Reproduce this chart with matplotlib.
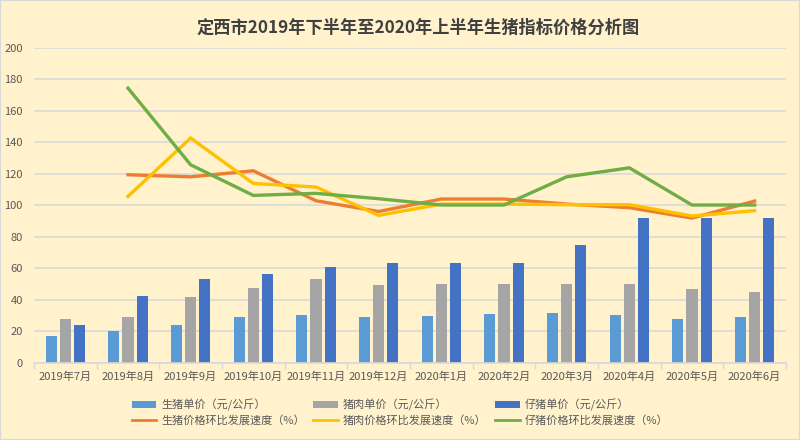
import numpy as np
import matplotlib
matplotlib.use("Agg")
import matplotlib.pyplot as plt
from matplotlib.patches import Rectangle
from matplotlib.lines import Line2D
from matplotlib.patches import Patch

plt.rcParams['font.family'] = ['Noto Sans CJK SC', 'DejaVu Sans']

title = "定西市2019年下半年至2020年上半年生猪指标价格分析图"
months = ["2019年7月", "2019年8月", "2019年9月", "2019年10月", "2019年11月", "2019年12月",
          "2020年1月", "2020年2月", "2020年3月", "2020年4月", "2020年5月", "2020年6月"]

live_pig_price = [17.1, 20.5, 24.3, 29.4, 30.5, 29.4, 30.0, 31.1, 31.5, 30.7, 28.1, 29.0]
pork_price = [27.7, 29.2, 41.7, 47.8, 53.1, 49.3, 49.9, 49.9, 49.9, 49.9, 46.7, 45.0]
piglet_price = [24.3, 42.3, 53.5, 56.7, 61.1, 63.7, 63.7, 63.7, 75.1, 92.2, 92.2, 92.2]

live_pig_rate = [np.nan, 119.5, 118.2, 122.0, 103.0, 96.2, 104.1, 104.1, 100.9, 98.6, 92.0, 102.8]
pork_rate = [np.nan, 105.8, 142.8, 114.0, 111.7, 93.7, 100.9, 100.9, 100.5, 100.5, 93.3, 96.7]
piglet_rate = [np.nan, 174.5, 125.8, 106.4, 107.7, 104.3, 100.3, 100.3, 118.2, 123.9, 100.3, 100.3]

bar_labels = ["生猪单价（元/公斤）", "猪肉单价（元/公斤）", "仔猪单价（元/公斤）"]
line_labels = ["生猪价格环比发展速度（%）", "猪肉价格环比发展速度（%）", "仔猪价格环比发展速度（%）"]

bar_colors = ["#5B9BD5", "#A5A5A5", "#4472C4"]
line_colors = ["#ED7D31", "#FFC000", "#70AD47"]

fig = plt.figure(figsize=(8, 4.4), dpi=100)
fig.patch.set_facecolor("#FFF2CC")
fig.patches.append(Rectangle((0, 0), 1, 1, transform=fig.transFigure, facecolor="none",
                             edgecolor="#D9D9D9", linewidth=1.5, zorder=-1))

ax = fig.add_axes([0.0425, 0.175, 0.94, 0.716])
ax.set_facecolor("none")

x = np.arange(len(months))
bw = 0.176
step = 0.224
for i, (vals, c, lab) in enumerate(zip([live_pig_price, pork_price, piglet_price], bar_colors, bar_labels)):
    ax.bar(x + (i - 1) * step, vals, width=bw, color=c, label=lab, zorder=2)

for vals, c, lab in zip([live_pig_rate, pork_rate, piglet_rate], line_colors, line_labels):
    ax.plot(x, vals, color=c, lw=2.4, label=lab, zorder=3, solid_joinstyle='miter')

ax.set_ylim(0, 200)
ax.set_yticks(np.arange(0, 201, 20))
ax.set_xlim(-0.5, len(months) - 0.5)
ax.set_xticks(x)
ax.set_xticklabels(months)
ax.set_xticks(np.arange(-0.5, len(months), 1), minor=True)
ax.tick_params(axis='x', which='major', length=0, pad=6, labelsize=8, labelcolor="#595959")
ax.tick_params(axis='x', which='minor', length=4, color="#D9D9D9", width=1)
ax.tick_params(axis='y', length=0, pad=8, labelsize=8, labelcolor="#595959")
ax.yaxis.grid(True, color="#D9D9D9", lw=1.2, zorder=0)
ax.set_axisbelow(True)
for s in ["top", "right", "left"]:
    ax.spines[s].set_visible(False)
ax.spines["bottom"].set_color("#D9D9D9")
ax.spines["bottom"].set_linewidth(1.2)

fig.text(0.523, 0.938, title, ha="center", va="center", fontsize=12.4, fontweight="bold", color="#404040")

handles = [
    Patch(facecolor=bar_colors[0], label=bar_labels[0]),
    Line2D([], [], color=line_colors[0], lw=2.0, label=line_labels[0]),
    Patch(facecolor=bar_colors[1], label=bar_labels[1]),
    Line2D([], [], color=line_colors[1], lw=2.0, label=line_labels[1]),
    Patch(facecolor=bar_colors[2], label=bar_labels[2]),
    Line2D([], [], color=line_colors[2], lw=2.0, label=line_labels[2]),
]
leg = fig.legend(handles=handles, ncol=3, loc="center", bbox_to_anchor=(0.5, 0.0625),
                 frameon=False, fontsize=8.0, handlelength=2.2, handleheight=0.6,
                 handletextpad=0.45, columnspacing=0.8, labelspacing=0.4)
for t in leg.get_texts():
    t.set_color("#595959")

fig.savefig("out.png", dpi=100, facecolor=fig.get_facecolor())
